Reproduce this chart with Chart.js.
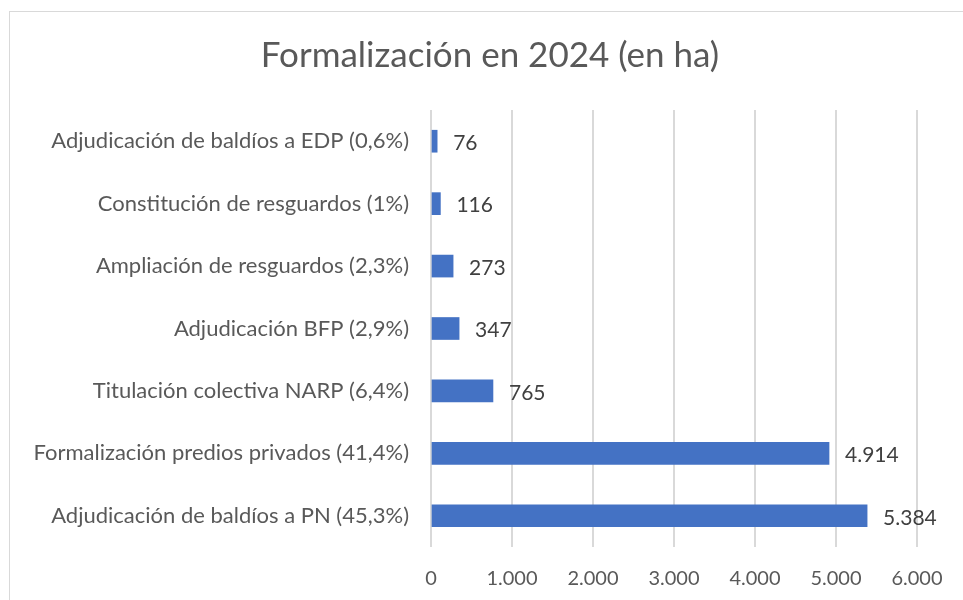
<!DOCTYPE html>
<html>
<head>
<meta charset="utf-8">
<script src="https://cdn.jsdelivr.net/npm/chart.js@4.4.1/dist/chart.umd.min.js"></script>
<style>
  html, body { margin: 0; padding: 0; background: #fff; overflow: hidden; }
  #frame { position: absolute; left: 9px; top: 11px; width: 1100px; height: 800px; border: 1px solid #d9d9d9; box-sizing: border-box; }
  #wrap { position: absolute; left: 0; top: 0; width: 963px; height: 600px; }
</style>
</head>
<body>
<div id="frame"></div>
<div id="wrap"><canvas id="c" width="963" height="600"></canvas></div>
<script>
const titleText = 'Formalización en 2024 (en ha)';
const categories = [
  'Adjudicación de baldíos a EDP (0,6%)',
  'Constitución de resguardos (1%)',
  'Ampliación de resguardos (2,3%)',
  'Adjudicación BFP (2,9%)',
  'Titulación colectiva NARP (6,4%)',
  'Formalización predios privados (41,4%)',
  'Adjudicación de baldíos a PN (45,3%)'
];
const values = [76, 116, 273, 347, 765, 4914, 5384];
const xTicks = [0, 1000, 2000, 3000, 4000, 5000, 6000];

const FONT = 'Lato, "Open Sans", sans-serif';
function fmt(v) {
  return String(v).replace(/\B(?=(\d{3})+(?!\d))/g, '.');
}

const dataLabels = {
  id: 'dataLabels',
  afterDatasetsDraw(chart) {
    const ctx = chart.ctx;
    const meta = chart.getDatasetMeta(0);
    ctx.save();
    ctx.font = '21px ' + FONT;
    ctx.fillStyle = '#404040';
    ctx.textAlign = 'left';
    ctx.textBaseline = 'middle';
    meta.data.forEach((bar, i) => {
      ctx.fillText(fmt(values[i]), bar.x + 16, bar.y + 2);
    });
    ctx.restore();
  }
};

const chartTitle = {
  id: 'chartTitle',
  afterDraw(chart) {
    const ctx = chart.ctx;
    ctx.save();
    ctx.font = '35px ' + FONT;
    ctx.fillStyle = '#595959';
    ctx.textAlign = 'center';
    ctx.textBaseline = 'middle';
    ctx.fillText(titleText, 490, 56);
    ctx.restore();
  }
};

new Chart(document.getElementById('c'), {
  type: 'bar',
  data: {
    labels: categories,
    datasets: [{
      data: values,
      backgroundColor: '#4472C4',
      borderWidth: 0,
      barThickness: 22
    }]
  },
  options: {
    indexAxis: 'y',
    responsive: false,
    animation: false,
    devicePixelRatio: 1,
    layout: { padding: { left: 0, right: 46, top: 110, bottom: 0 } },
    plugins: {
      legend: { display: false },
      tooltip: { enabled: false },
      title: { display: false }
    },
    scales: {
      x: {
        min: 0, max: 6000,
        afterBuildTicks(scale) { scale.ticks = xTicks.map(v => ({ value: v })); },
        afterFit(scale) { scale.height = 53; },
        grid: { color: '#d9d9d9', lineWidth: 2, drawTicks: false },
        border: { display: false },
        ticks: {
          color: '#595959',
          font: { family: FONT, size: 20 },
          padding: 20,
          maxRotation: 0,
          callback: (v) => fmt(v)
        }
      },
      y: {
        afterFit(scale) { scale.width = 431; },
        grid: { display: false, drawTicks: false },
        border: { display: false },
        ticks: {
          color: '#595959',
          font: { family: FONT, size: 22 },
          padding: 22
        }
      }
    }
  },
  plugins: [dataLabels, chartTitle]
});
</script>
</body>
</html>
